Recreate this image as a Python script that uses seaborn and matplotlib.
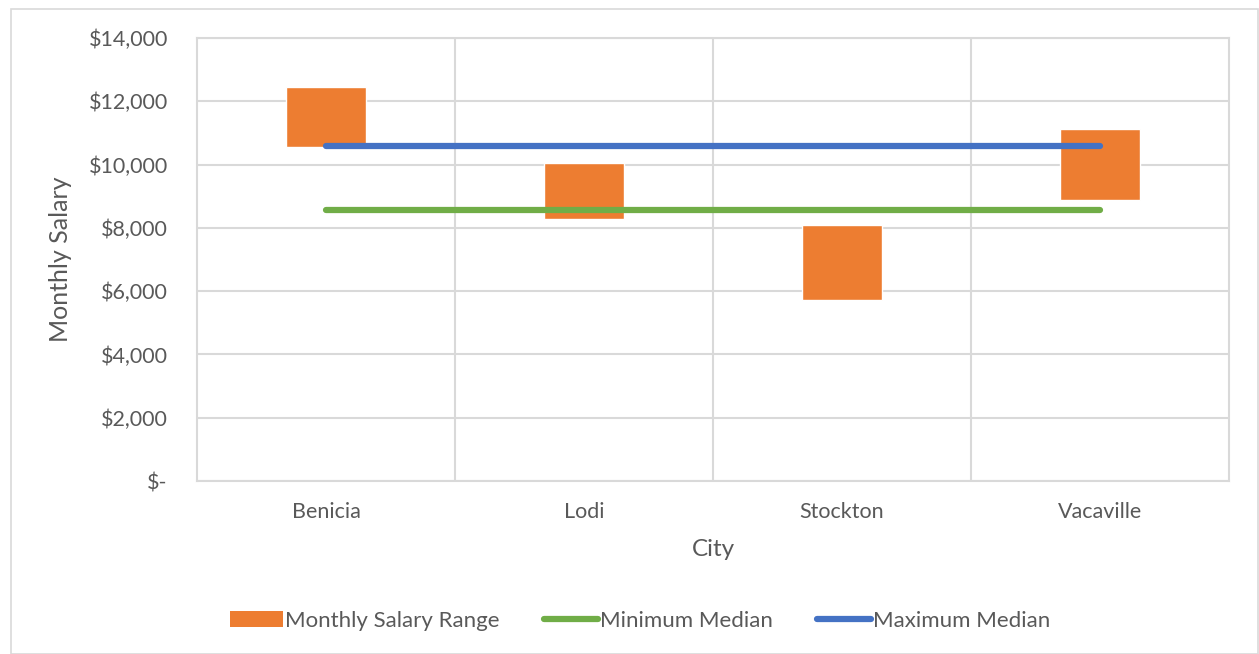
import matplotlib
matplotlib.use("Agg")
import matplotlib.pyplot as plt
import seaborn as sns
import numpy as np
from matplotlib.patches import Patch, Rectangle
from matplotlib.lines import Line2D
from matplotlib.ticker import FuncFormatter, FixedLocator

cities = ["Benicia", "Lodi", "Stockton", "Vacaville"]
range_min = [10570, 8290, 5730, 8890]
range_max = [12460, 10045, 8095, 11130]
minimum_median = [8580, 8580, 8580, 8580]
maximum_median = [10600, 10600, 10600, 10600]

ORANGE = "#ED7D31"
GREEN = "#70AD47"
BLUE = "#4472C4"
GRID = "#D9D9D9"
TEXT = "#595959"

sns.set_theme(style="white")
plt.rcParams["font.family"] = ["Lato", "DejaVu Sans"]

fig = plt.figure(figsize=(12.59, 6.54), dpi=100)
ax = fig.add_axes([197/1259, (654-481)/654, (1229-197)/1259, (481-38)/654])

heights = [mx - mn for mx, mn in zip(range_max, range_min)]
sns.barplot(x=cities, y=heights, ax=ax, color=ORANGE, width=0.31,
            saturation=1, bottom=range_min, zorder=2)

pos = list(range(len(cities)))
sns.lineplot(x=pos, y=minimum_median, ax=ax, color=GREEN, linewidth=4.5,
             solid_capstyle="round", zorder=3)
sns.lineplot(x=pos, y=maximum_median, ax=ax, color=BLUE, linewidth=4.5,
             solid_capstyle="round", zorder=3)

ax.set_xlim(-0.5, len(cities) - 0.5)
ax.set_ylim(0, 14000)
ax.set_yticks(np.arange(0, 14001, 2000))
ax.yaxis.set_major_formatter(FuncFormatter(lambda v, p: "$-" if v == 0 else f"${v:,.0f}"))
ax.xaxis.set_minor_locator(FixedLocator([0.5, 1.5, 2.5]))
ax.grid(axis="y", which="major", color=GRID, linewidth=1.5, zorder=0)
ax.grid(axis="x", which="minor", color=GRID, linewidth=1.5, zorder=0)
ax.grid(axis="x", which="major", visible=False)
ax.set_axisbelow(True)
for s in ax.spines.values():
    s.set_color(GRID)
    s.set_linewidth(1.5)
ax.tick_params(axis="both", which="both", length=0, labelsize=15.5, colors=TEXT)
ax.tick_params(axis="y", pad=21)
ax.tick_params(axis="x", pad=15)

ax.set_xlabel("City", fontsize=17.5, color=TEXT, labelpad=12)
ax.set_ylabel("Monthly Salary", fontsize=18, color=TEXT, labelpad=12)

handles = [Patch(facecolor=ORANGE, edgecolor="none"),
           Line2D([], [], color=GREEN, linewidth=4.5, solid_capstyle="round"),
           Line2D([], [], color=BLUE, linewidth=4.5, solid_capstyle="round")]
labels = ["Monthly Salary Range", "Minimum Median", "Maximum Median"]
leg = fig.legend(handles, labels, loc="center", bbox_to_anchor=(640/1259, 1 - 621/654),
                 ncol=3, frameon=False, fontsize=16, handlelength=2.4,
                 handletextpad=0.1, columnspacing=2.0)
for t in leg.get_texts():
    t.set_color(TEXT)

fig.patches.append(Rectangle((11/1259, 0), 1 - 12/1259, 1 - 9/654, transform=fig.transFigure,
                             fill=False, edgecolor=GRID, linewidth=1.2))

fig.savefig("out.png", dpi=100)
